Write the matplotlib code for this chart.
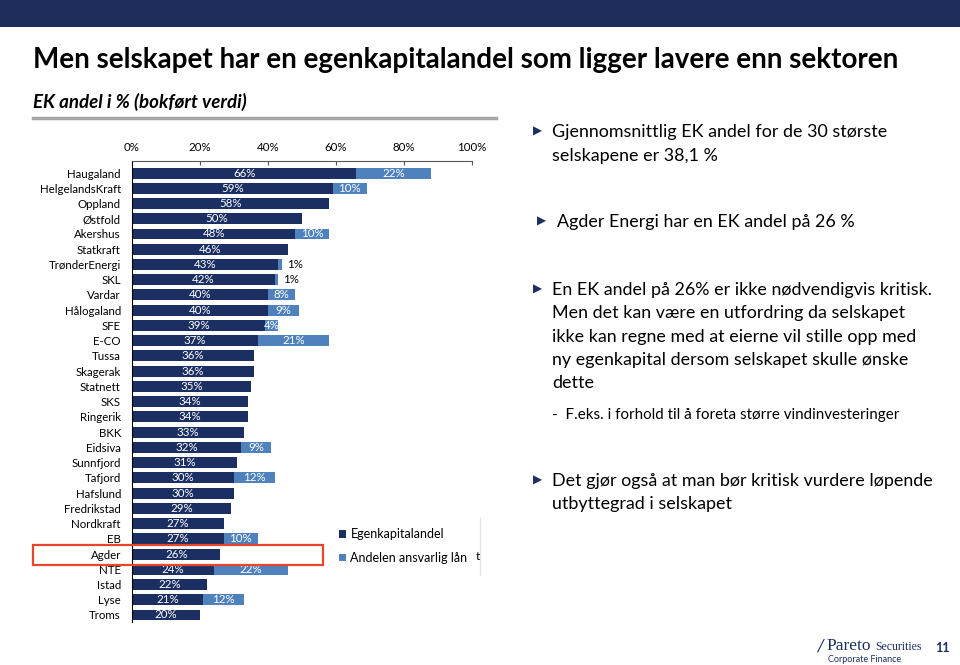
import matplotlib
matplotlib.use("Agg")
import matplotlib.pyplot as plt
from matplotlib.patches import Rectangle
from matplotlib.lines import Line2D

# Data (top to bottom as shown)
companies = ['Haugaland', 'HelgelandsKraft', 'Oppland', 'Østfold', 'Akershus', 'Statkraft',
             'TrønderEnergi', 'SKL', 'Vardar', 'Hålogaland', 'SFE', 'E-CO', 'Tussa', 'Skagerak',
             'Statnett', 'SKS', 'Ringerik', 'BKK', 'Eidsiva', 'Sunnfjord', 'Tafjord', 'Hafslund',
             'Fredrikstad', 'Nordkraft', 'EB', 'Agder', 'NTE', 'Istad', 'Lyse', 'Troms']
ek_share = [66, 59, 58, 50, 48, 46, 43, 42, 40, 40, 39, 37, 36, 36, 35, 34, 34, 33, 32, 31,
            30, 30, 29, 27, 27, 26, 24, 22, 21, 20]
loan_share = [22, 10, 0, 0, 10, 0, 1, 1, 8, 9, 4, 21, 0, 0, 0, 0, 0, 0, 9, 0,
              12, 0, 0, 0, 10, 0, 22, 0, 12, 0]
series_names = ['Egenkapitalandel', 'Andelen ansvarlig lån']
x_ticks = [0, 20, 40, 60, 80, 100]

DARK = '#1c2f63'
LIGHT = '#4f81bd'
FONT = 'Lato'
plt.rcParams['font.family'] = [FONT, 'DejaVu Sans']

W, H = 960, 665
fig = plt.figure(figsize=(W / 100, H / 100), dpi=100)


def fx(px):
    return px / W


def fy(py):
    return 1 - py / H


# Header band
fig.patches.append(Rectangle((0, fy(27)), 1, 27 / H, transform=fig.transFigure,
                             facecolor='#1e2c5c', edgecolor='none', zorder=0))

# Title and subtitle
fig.text(fx(33), fy(60), 'Men selskapet har en egenkapitalandel som ligger lavere enn sektoren',
         fontsize=20, fontweight='bold', ha='left', va='center', color='black')
fig.text(fx(33), fy(102), 'EK andel i % (bokført verdi)', fontsize=13.5, fontweight='bold',
         style='italic', ha='left', va='center', color='black')
fig.add_artist(Line2D([fx(33), fx(496)], [fy(118), fy(118)], transform=fig.transFigure,
                      color='#a6a6a6', lw=2.5))

# Chart
ax = fig.add_axes([fx(132), fy(622), fx(472) - fx(132), (622 - 161) / H])
y = list(range(len(companies)))
b1 = ax.barh(y, ek_share, height=0.72, color=DARK, label=series_names[0])
b2 = ax.barh(y, loan_share, left=ek_share, height=0.72, color=LIGHT, label=series_names[1])

for i, (e, l) in enumerate(zip(ek_share, loan_share)):
    ax.text(e / 2, i, f'{e}%', ha='center', va='center', color='white', fontsize=8.3)
    if l >= 3:
        ax.text(e + l / 2, i, f'{l}%', ha='center', va='center', color='white', fontsize=8.3)
    elif l > 0:
        ax.text(e + l + 1.5, i, f'{l}%', ha='left', va='center', color='black', fontsize=8.3)

ax.set_xlim(0, 100)
ax.set_ylim(len(companies) - 0.54, -0.79)
ax.set_yticks(y)
ax.set_yticklabels(companies, fontsize=8.3)
ax.tick_params(axis='y', length=0, pad=8)
ax.xaxis.tick_top()
ax.set_xticks(x_ticks)
ax.set_xticklabels([f'{t}%' for t in x_ticks], fontsize=8.3)
ax.tick_params(axis='x', direction='in', length=3, pad=6, color='#555555')
for s in ['right', 'bottom']:
    ax.spines[s].set_visible(False)
ax.spines['top'].set_color('#555555')
ax.spines['left'].set_color('black')
ax.set_facecolor('none')

# Legend
leg = fig.legend(handles=[b1, b2], labels=series_names, loc='upper left',
                 bbox_to_anchor=(fx(328), fy(517)), frameon=False, fontsize=9,
                 handlelength=0.55, handleheight=0.55, handletextpad=0.35, labelspacing=0.95)
fig.add_artist(Line2D([fx(480), fx(480)], [fy(518), fy(575)], transform=fig.transFigure,
                      color='#e6e6e6', lw=1))
fig.text(fx(476), fy(556), 't', fontsize=8.5, ha='left', va='center')

# Highlight Agder
fig.patches.append(Rectangle((fx(33), fy(565)), (323 - 33) / W, 20 / H, transform=fig.transFigure,
                             fill=False, edgecolor='#e8452c', lw=1.6, zorder=5))

# Right-side text
TXT = 12.9


def bullet(px, py):
    fig.text(fx(px), fy(py), '▶', fontsize=8.5, color=DARK, ha='left', va='center',
             family='DejaVu Sans')


bullet(533, 131)
fig.text(fx(552), fy(132), 'Gjennomsnittlig EK andel for de 30 største', fontsize=TXT, va='center')
fig.text(fx(552), fy(156), 'selskapene er 38,1 %', fontsize=TXT, va='center')

bullet(537, 221)
fig.text(fx(557), fy(222), 'Agder Energi har en EK andel på 26 %', fontsize=TXT, va='center')

bullet(533, 289)
lines3 = ['En EK andel på 26% er ikke nødvendigvis kritisk.',
          'Men det kan være en utfordring da selskapet',
          'ikke kan regne med at eierne vil stille opp med',
          'ny egenkapital dersom selskapet skulle ønske',
          'dette']
for k, t in enumerate(lines3):
    fig.text(fx(552), fy(290 + k * 23.3), t, fontsize=TXT, va='center')
fig.text(fx(552), fy(415), '-  F.eks. i forhold til å foreta større vindinvesteringer',
         fontsize=10.9, va='center')

bullet(533, 480)
fig.text(fx(552), fy(481), 'Det gjør også at man bør kritisk vurdere løpende', fontsize=TXT, va='center')
fig.text(fx(552), fy(504), 'utbyttegrad i selskapet', fontsize=TXT, va='center')

# Footer
fig.text(fx(816), fy(646), '/', fontsize=13, color=DARK, va='center', style='italic')
fig.text(fx(826), fy(646), 'Pareto', fontsize=12.5, color=DARK, va='center',
         family='Liberation Serif')
fig.text(fx(875), fy(647), 'Securities', fontsize=8.5, color=DARK, va='center',
         family='Liberation Serif')
fig.text(fx(828), fy(659), 'Corporate Finance', fontsize=6.5, color=DARK, va='center')
fig.text(fx(935), fy(648), '11', fontsize=9, fontweight='bold', color=DARK, va='center')

fig.savefig('out.png', dpi=100)
